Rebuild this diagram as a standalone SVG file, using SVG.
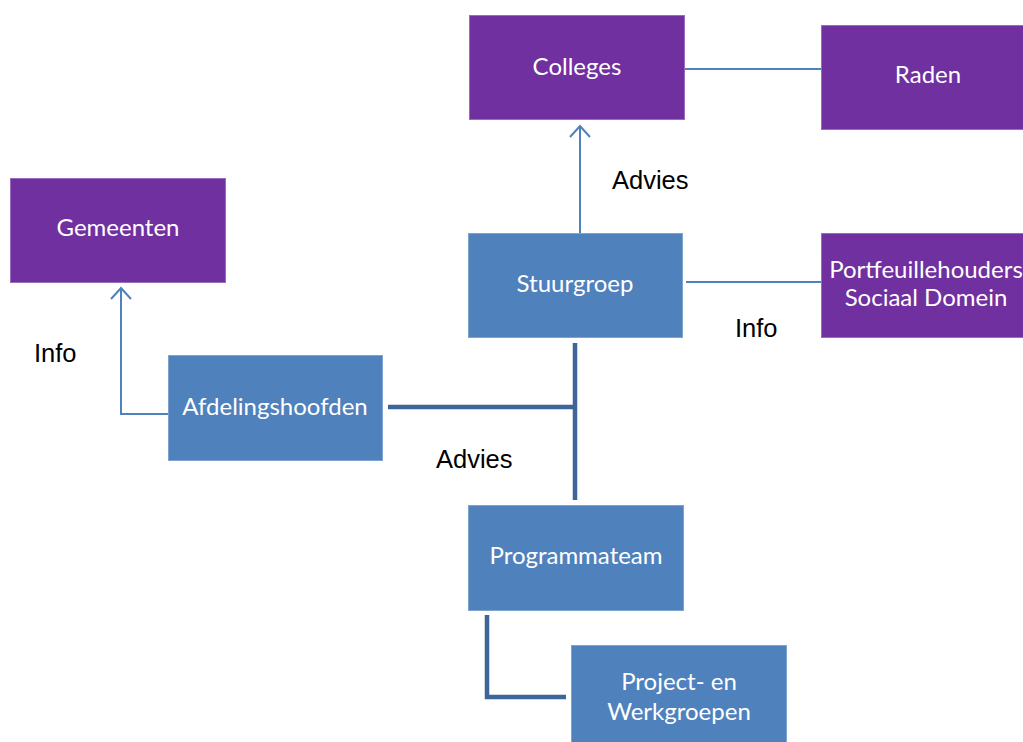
<svg xmlns="http://www.w3.org/2000/svg" width="1023" height="742" viewBox="0 0 1023 742">
<style>
.p{fill:#7030A0;stroke:#9A6CC0;stroke-width:1}
.b{fill:#4F81BD;stroke:#7FA3D1;stroke-width:1}
.t{font-family:Lato,"Open Sans","Liberation Sans",sans-serif;font-size:24px;fill:#fff;text-anchor:middle}
.l{font-family:"Liberation Sans",Arial,sans-serif;font-size:25.5px;fill:#000}
.thin{fill:none;stroke:#4F81BD;stroke-width:2}
.thick{fill:none;stroke:#3E6598;stroke-width:4.5}
</style>
<defs>
<marker id="a" viewBox="0 0 14 24" refX="12" refY="12" markerWidth="14" markerHeight="24" markerUnits="userSpaceOnUse" orient="auto">
<path d="M1,2 L12,12 L1,22" fill="none" stroke="#4F81BD" stroke-width="2"/>
</marker>
</defs>
<rect width="1023" height="742" fill="#fff"/>
<g id="connectors">
<line class="thin" x1="685" y1="69" x2="821" y2="69"/>
<line class="thin" x1="686" y1="282" x2="821" y2="282"/>
<path class="thin" d="M580,233 L580,126" marker-end="url(#a)"/>
<path class="thin" d="M168,414 L121,414 L121,288" marker-end="url(#a)"/>
<path class="thick" d="M388,407 L575,407"/>
<path class="thick" d="M575,343 L575,500"/>
<path class="thick" d="M487,615 L487,697 L566,697"/>
<text class="l" x="612" y="189">Advies</text>
<text class="l" x="735" y="337">Info</text>
<text class="l" x="34" y="362">Info</text>
<text class="l" x="436" y="468">Advies</text>
</g>
<g id="colleges"><rect class="p" x="469.5" y="15.5" width="215" height="104"/><text class="t" x="577" y="75">Colleges</text></g>
<g id="raden"><rect class="p" x="821.5" y="25.5" width="210" height="104"/><text class="t" x="928" y="83">Raden</text></g>
<g id="gemeenten"><rect class="p" x="10.5" y="178.5" width="215" height="104"/><text class="t" x="118" y="236">Gemeenten</text></g>
<g id="stuurgroep"><rect class="b" x="468.5" y="233.5" width="214" height="104"/><text class="t" x="575" y="292">Stuurgroep</text></g>
<g id="portfeuillehouders"><rect class="p" x="821.5" y="233.5" width="210" height="104"/><text class="t" x="926" y="278">Portfeuillehouders</text><text class="t" x="926" y="306">Sociaal Domein</text></g>
<g id="afdelingshoofden"><rect class="b" x="168.5" y="355.5" width="214" height="105"/><text class="t" x="275" y="415">Afdelingshoofden</text></g>
<g id="programmateam"><rect class="b" x="468.5" y="505.5" width="215" height="105"/><text class="t" x="576" y="564">Programmateam</text></g>
<g id="projectgroepen"><rect class="b" x="571.5" y="645.5" width="215" height="104"/><text class="t" x="679" y="690">Project- en</text><text class="t" x="679" y="720">Werkgroepen</text></g>
</svg>
